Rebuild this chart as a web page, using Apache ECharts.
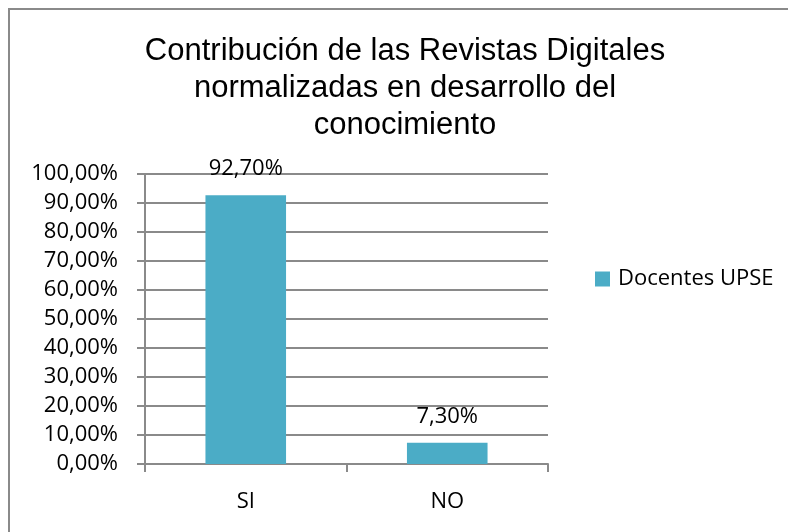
<!DOCTYPE html>
<html>
<head>
<meta charset="utf-8">
<script src="https://cdn.jsdelivr.net/npm/echarts@6/dist/echarts.min.js"></script>
<style>
  html, body { margin: 0; padding: 0; background: #fff; }
  #chart { width: 788px; height: 532px; }
</style>
</head>
<body>
<div id="chart"></div>
<script>
// datos
var categorias = ['SI', 'NO'];
var docentesUPSE = [0.927, 0.073];
var serieNombre = 'Docentes UPSE';
var tituloLineas = [
  'Contribución de las Revistas Digitales',
  'normalizadas en desarrollo del',
  'conocimiento'
];

var gris = '#8a8a8a';
var fuente = '"Open Sans", sans-serif';

function porcentaje(v) {
  return (v * 100).toFixed(2).replace('.', ',') + '%';
}

var chart = echarts.init(document.getElementById('chart'));
chart.setOption({
  animation: false,
  backgroundColor: '#fff',
  graphic: [
    {
      type: 'rect',
      shape: { x: 9, y: 9, width: 900, height: 900 },
      style: { fill: 'none', stroke: gris, lineWidth: 2 },
      silent: true
    },
    {
      type: 'text',
      x: 405,
      y: 33,
      style: {
        text: tituloLineas.join('\n'),
        fill: '#000',
        fontSize: 31,
        fontFamily: '"Liberation Sans", Arial, sans-serif',
        lineHeight: 37,
        align: 'center',
        verticalAlign: 'top'
      }
    }
  ],
  legend: {
    data: [serieNombre],
    left: 590,
    top: 263,
    icon: 'rect',
    itemWidth: 15,
    itemHeight: 15,
    textStyle: { fontFamily: fuente, fontSize: 22, color: '#000', padding: [0, 0, 0, 3] }
  },
  grid: { left: 145, top: 174, right: 240, bottom: 68, containLabel: false },
  xAxis: {
    type: 'category',
    data: categorias,
    axisLine: { lineStyle: { color: gris, width: 2 } },
    axisTick: { show: true, length: 8, lineStyle: { color: gris, width: 2 } },
    axisLabel: { fontFamily: fuente, fontSize: 22, color: '#000', margin: 27 }
  },
  yAxis: {
    type: 'value',
    min: 0,
    max: 1,
    interval: 0.1,
    axisLine: { show: true, lineStyle: { color: gris, width: 2 } },
    axisTick: { show: true, length: 8, lineStyle: { color: gris, width: 2 } },
    splitLine: { show: true, lineStyle: { color: gris, width: 2 } },
    axisLabel: {
      fontFamily: fuente, fontSize: 22, color: '#000', margin: 27,
      formatter: porcentaje
    }
  },
  series: [
    {
      name: serieNombre,
      type: 'bar',
      data: docentesUPSE,
      barWidth: '40%',
      itemStyle: { color: '#4BACC6' },
      label: {
        show: true,
        position: 'top',
        distance: 15,
        fontFamily: fuente,
        fontSize: 22,
        color: '#000',
        formatter: function (p) { return porcentaje(p.value); }
      }
    }
  ]
});
</script>
</body>
</html>
